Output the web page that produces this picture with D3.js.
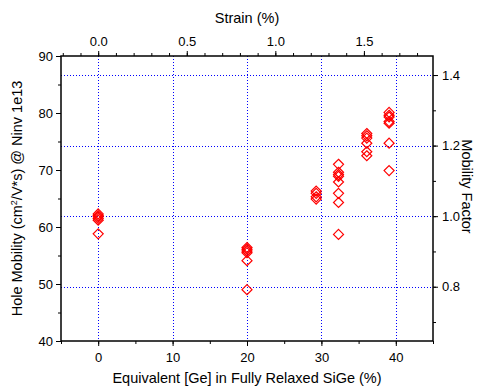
<!DOCTYPE html>
<html><head><meta charset="utf-8">
<script src="https://cdn.jsdelivr.net/npm/d3@7"></script>
<style>body{margin:0;background:#fff}text{font-family:"Liberation Sans",Arial,sans-serif}</style>
</head><body><svg id="c" width="477" height="387"></svg>
<script>
// Data: equivalent Ge content (%) and hole mobility (cm2/V*s)
const geContent = [0,0,0,0,0,0,
  20,20,20,20,20,20,
  29.3,29.3,29.3,29.3,
  32.3,32.3,32.3,32.3,32.3,32.3,32.3,32.3,
  36.1,36.1,36.1,36.1,36.1,36.1,
  39.1,39.1,39.1,39.1,39.1,39.1,39.1];
const mobility = [62.3,62.0,61.8,61.5,61.2,58.8,
  56.4,56.1,55.8,55.5,54.1,49.0,
  66.3,65.9,65.3,64.9,
  71.0,69.6,69.2,68.9,67.9,65.9,64.3,58.7,
  76.4,76.0,75.6,74.7,73.2,72.5,
  80.1,79.6,79.3,78.5,78.2,74.7,69.9];
const bottomTicks = [0,10,20,30,40];
const leftTicks = [40,50,60,70,80,90];
const rightTicks = [0.8,1.0,1.2,1.4];
const topTicks = [0.0,0.5,1.0,1.5];
const mobilityRef = 61.9;   // mobility factor = 1.0
const strainPerGe = 0.042;  // strain (%) per % Ge

const svg = d3.select("#c");
const L=61,R=433,T=56,B=341;
const x = d3.scaleLinear().domain([-5,45]).range([L,R]);
const y = d3.scaleLinear().domain([40,90]).range([B,T]);
const yr = d3.scaleLinear().domain([40/mobilityRef,90/mobilityRef]).range([B,T]);
const xt = d3.scaleLinear().domain([-5*strainPerGe,45*strainPerGe]).range([L,R]);

const grid = svg.append("g").attr("stroke","#0000ff").attr("stroke-width",1).attr("stroke-dasharray","1,2");
bottomTicks.forEach(v=>grid.append("line").attr("x1",Math.round(x(v))+0.5).attr("x2",Math.round(x(v))+0.5).attr("y1",T).attr("y2",B));
rightTicks.forEach(v=>grid.append("line").attr("y1",Math.round(yr(v))+0.5).attr("y2",Math.round(yr(v))+0.5).attr("x1",L).attr("x2",R));

// points
const sym = d3.symbol().type(d3.symbolDiamond2).size(64);
svg.append("g").selectAll("path").data(geContent.map((g,i)=>[g,mobility[i]])).join("path")
  .attr("d",sym).attr("transform",d=>`translate(${x(d[0])},${y(d[1])})`)
  .attr("fill","none").attr("stroke","#ff0000").attr("stroke-width",1.2);

const fs=13;
function styleAxis(g){g.select(".domain").remove();g.selectAll("line").attr("stroke","#000");g.selectAll("text").attr("font-size",fs).attr("fill","#000");}
// bottom
svg.append("g").attr("transform",`translate(0,${B})`).call(d3.axisBottom(x).tickValues(d3.range(-5,46,5)).tickSize(3).tickFormat(""))
  .call(styleAxis);
svg.append("g").attr("transform",`translate(0,${B})`).call(d3.axisBottom(x).tickValues(bottomTicks).tickSize(5).tickPadding(7).tickFormat(d3.format("d")))
  .call(styleAxis);
// left
svg.append("g").attr("transform",`translate(${L},0)`).call(d3.axisLeft(y).tickValues(d3.range(40,91,5)).tickSize(3).tickFormat(""))
  .call(styleAxis);
svg.append("g").attr("transform",`translate(${L},0)`).call(d3.axisLeft(y).tickValues(leftTicks).tickSize(5).tickPadding(3).tickFormat(d3.format("d")))
  .call(styleAxis);
// right
svg.append("g").attr("transform",`translate(${R},0)`).call(d3.axisRight(yr).tickValues(d3.range(0.7,1.45,0.1)).tickSize(3).tickFormat(""))
  .call(styleAxis);
svg.append("g").attr("transform",`translate(${R},0)`).call(d3.axisRight(yr).tickValues(rightTicks).tickSize(5).tickPadding(4).tickFormat(d3.format(".1f")))
  .call(styleAxis);
// top
svg.append("g").attr("transform",`translate(0,${T})`).call(d3.axisTop(xt).tickValues(d3.range(-0.2,1.85,0.1)).tickSize(3).tickFormat(""))
  .call(styleAxis);
svg.append("g").attr("transform",`translate(0,${T})`).call(d3.axisTop(xt).tickValues(topTicks).tickSize(5).tickPadding(5).tickFormat(d3.format(".1f")))
  .call(styleAxis);

svg.append("rect").attr("x",L).attr("y",T).attr("width",R-L).attr("height",B-T).attr("fill","none").attr("stroke","#000").attr("stroke-width",1.5);

// titles
svg.append("text").attr("x",(L+R)/2).attr("y",383).attr("text-anchor","middle").attr("font-size",14.5)
  .text("Equivalent [Ge] in Fully Relaxed SiGe (%)");
svg.append("text").attr("x",(L+R)/2).attr("y",23).attr("text-anchor","middle").attr("font-size",14.5).text("Strain (%)");
const yl = svg.append("text").attr("transform",`translate(22,${(T+B)/2}) rotate(-90)`).attr("text-anchor","middle").attr("font-size",14.5);
yl.append("tspan").text("Hole Mobility (cm");
yl.append("tspan").attr("font-size",9).attr("dy",-5).text("2");
yl.append("tspan").attr("dy",5).text("/V*s) @ Ninv 1e13");
svg.append("text").attr("transform",`translate(462,${(T+B)/2-12}) rotate(90)`).attr("text-anchor","middle").attr("font-size",14.5).text("Mobility Factor");
</script></body></html>
